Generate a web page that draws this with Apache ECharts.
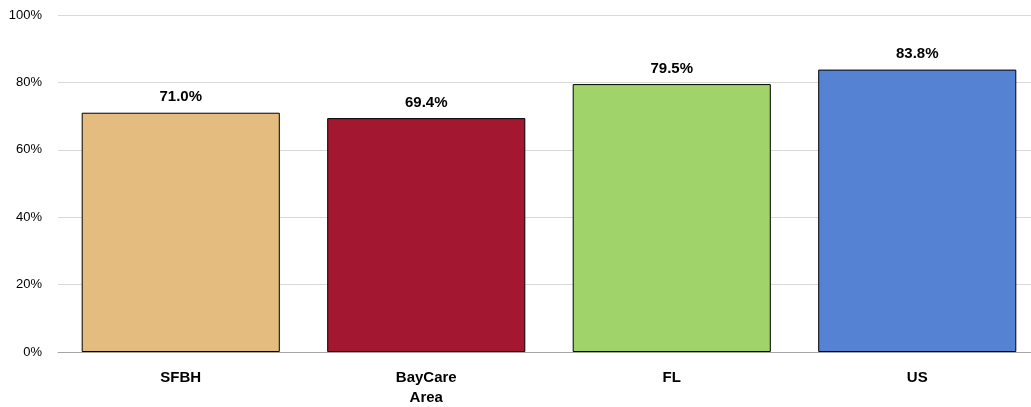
<!DOCTYPE html>
<html><head><meta charset="utf-8">
<script src="https://cdn.jsdelivr.net/npm/echarts@6/dist/echarts.min.js"></script>
<style>html,body{margin:0;padding:0;background:#fff;overflow:hidden}#c{width:1031px;height:407px}</style>
</head><body><div id="c"></div>
<script>
const categories = ['SFBH', 'BayCare\nArea', 'FL', 'US'];
const values = [71.0, 69.4, 79.5, 83.8];
const colors = ['#E5BC80', '#A31830', '#A0D36A', '#5682D3'];
const yTicks = [0, 20, 40, 60, 80, 100];
const FF = "'Liberation Sans Narrow', 'Arial Narrow', 'Liberation Sans', Arial, sans-serif";
const chart = echarts.init(document.getElementById('c'), null, {renderer: 'canvas'});
chart.setOption({
  animation: false,
  grid: {left: 58, width: 982, top: 15, height: 337, containLabel: false, outerBoundsMode: 'none'},
  xAxis: {
    type: 'category', data: categories,
    axisLine: {show: true, lineStyle: {color: '#A6A6A6', width: 1}},
    axisTick: {show: false},
    axisLabel: {color: '#000', fontFamily: FF, fontWeight: 'bold', fontSize: 15, margin: 16, lineHeight: 20}
  },
  yAxis: {
    type: 'value', min: 0, max: 100, interval: 20,
    axisLine: {show: false}, axisTick: {show: false},
    splitLine: {lineStyle: {color: '#D9D9D9', width: 1}},
    axisLabel: {color: '#000', fontFamily: FF, fontSize: 13, margin: 16,
      formatter: v => yTicks.includes(v) ? v + '%' : ''}
  },
  series: [{
    type: 'bar',
    barCategoryGap: '19.3%',
    data: values.map((v, i) => ({value: v, itemStyle: {color: colors[i]}})),
    itemStyle: {borderColor: '#000', borderWidth: 1},
    label: {show: true, position: 'top', distance: 8, color: '#000', fontFamily: FF, fontWeight: 'bold', fontSize: 15,
      formatter: p => p.value.toFixed(1) + '%'}
  }]
});
</script></body></html>
